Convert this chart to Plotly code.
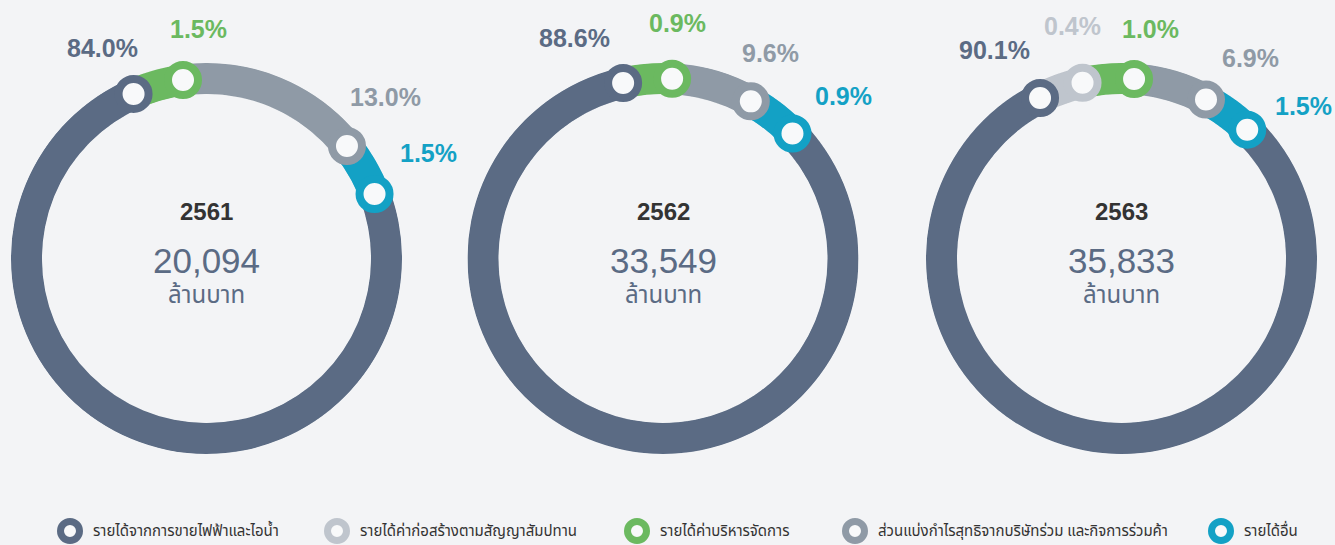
import math
import plotly.graph_objects as go

# ---------------- data ----------------
years = ["2561", "2562", "2563"]
totals = ["20,094", "33,549", "35,833"]
unit = "ล้านบาท"
categories = [
    "รายได้จากการขายไฟฟ้าและไอน้ำ",
    "รายได้ค่าก่อสร้างตามสัญญาสัมปทาน",
    "รายได้ค่าบริหารจัดการ",
    "ส่วนแบ่งกำไรสุทธิจากบริษัทร่วม และกิจการร่วมค้า",
    "รายได้อื่น",
]
share_2561 = [84.0, 0.0, 1.5, 13.0, 1.5]
share_2562 = [88.6, 0.0, 0.9, 9.6, 0.9]
share_2563 = [90.1, 0.4, 1.0, 6.9, 1.5]
# arc length of each segment as drawn in the (stylised) rings, degrees
arc_2561 = [267.1, 0.0, 16.4, 58.8, 17.7]
arc_2562 = [301.2, 0.0, 15.7, 26.3, 16.8]
arc_2563 = [288.8, 14.4, 16.5, 24.0, 16.3]

shares = [share_2561, share_2562, share_2563]
arcs = [arc_2561, arc_2562, arc_2563]

# ---------------- style / layout ----------------
W, H = 1335, 545
BG = "#f3f4f6"
colors = ["#5b6b84", "#bfc5cd", "#6bb960", "#8f9aa6", "#13a1c5"]
centers_x = [206.5, 663.0, 1121.5]
center_y = 258.5
R_OUT = 195.5
THICK = 31.0
HOLE = (R_OUT - THICK) / R_OUT
dark_end = [-23.9, -12.8, -26.9]          # angle where the main segment ends
# label placement (angle, radius px) per ring, per category (None = no label)
label_pos = [
    [(-26.4, 235), None, (-2.1, 230), (47.9, 241), (64.6, 246)],
    [(-21.9, 238), None, (3.6, 236), (27.7, 232), (47.9, 243)],
    [(-31.4, 244), (-12.0, 238), (7.3, 231), (32.7, 238), (50.0, 237)],
]
NUM_FONT = "Liberation Sans, Arial, Helvetica, sans-serif"
THAI_FONT = "Noto Sans Thai, Loma, Garuda, Tahoma, sans-serif"

fig = go.Figure()
layout_polars = {}
annotations = []

for i in range(3):
    pid = "polar" if i == 0 else f"polar{i+1}"
    arc = arcs[i]
    sh = shares[i]
    thetas, widths, cols = [], [], []
    ends, end_cols = [], []
    start_main = dark_end[i] - arc[0]
    thetas.append(start_main + arc[0] / 2)
    widths.append(arc[0])
    cols.append(colors[0])
    ends.append(dark_end[i])
    end_cols.append(colors[0])
    pos = dark_end[i]
    for k in range(1, 5):
        if arc[k] <= 0:
            continue
        thetas.append(pos + arc[k] / 2)
        widths.append(arc[k])
        cols.append(colors[k])
        pos += arc[k]
        ends.append(pos)
        end_cols.append(colors[k])

    fig.add_trace(go.Barpolar(
        subplot=pid, r=[1.0] * len(thetas), base=[0.0] * len(thetas),
        theta=thetas, width=widths,
        marker=dict(color=cols, line=dict(width=0.6, color=cols)),
        hoverinfo="skip", showlegend=False,
    ))
    fig.add_trace(go.Scatterpolar(
        subplot=pid, r=[0.5] * len(ends), theta=ends, mode="markers",
        marker=dict(symbol="circle", size=30, color="#f8f9fa",
                    line=dict(color=end_cols, width=8)),
        hoverinfo="skip", showlegend=False, cliponaxis=False,
    ))

    cx = centers_x[i]
    for k in range(5):
        if label_pos[i][k] is None:
            continue
        a, rr = label_pos[i][k]
        lx = cx + rr * math.sin(math.radians(a))
        ly = center_y - rr * math.cos(math.radians(a))
        annotations.append(dict(
            x=lx / W, y=1 - ly / H, xref="paper", yref="paper",
            xanchor="center", yanchor="middle", text=f"{sh[k]:.1f}%", showarrow=False,
            font=dict(family=NUM_FONT, size=25, color=colors[k], weight="bold"),
        ))

    layout_polars[pid] = dict(
        domain=dict(x=[(cx - R_OUT) / W, (cx + R_OUT) / W],
                    y=[1 - (center_y + R_OUT) / H, 1 - (center_y - R_OUT) / H]),
        bgcolor="rgba(0,0,0,0)",
        hole=HOLE,
        radialaxis=dict(visible=False, range=[0, 1], autorange=False),
        angularaxis=dict(visible=False, rotation=90, direction="clockwise"),
        bargap=0,
    )
    annotations += [
        dict(x=cx / W, y=1 - 211.5 / H, xref="paper", yref="paper", text=years[i],
             xanchor="center", yanchor="middle", showarrow=False,
             font=dict(family=NUM_FONT, size=24, color="#333333", weight="bold")),
        dict(x=cx / W, y=1 - 260 / H, xref="paper", yref="paper", text=totals[i],
             xanchor="center", yanchor="middle", showarrow=False,
             font=dict(family=NUM_FONT, size=35, color="#5b6b84")),
        dict(x=cx / W, y=1 - 296 / H, xref="paper", yref="paper", text=unit,
             xanchor="center", yanchor="middle", showarrow=False,
             font=dict(family=THAI_FONT, size=24, color="#5b6b84")),
    ]

# ---------------- legend (manual) ----------------
legend_x = [70, 337, 637, 855, 1221]
legend_y = 531
fig.add_trace(go.Scatter(
    x=legend_x, y=[H - legend_y] * 5, mode="markers", xaxis="x", yaxis="y",
    marker=dict(symbol="circle", size=19, color="#f8f9fa", line=dict(color=colors, width=7)),
    hoverinfo="skip", showlegend=False, cliponaxis=False,
))
for k in range(5):
    annotations.append(dict(
        x=legend_x[k] + 21, y=H - legend_y, xref="x", yref="y", text=categories[k],
        xanchor="left", yanchor="middle", showarrow=False,
        font=dict(family=THAI_FONT, size=15, color="#333333"),
    ))

fig.update_layout(
    width=W, height=H,
    margin=dict(l=0, r=0, t=0, b=0, autoexpand=False),
    paper_bgcolor=BG, plot_bgcolor="rgba(0,0,0,0)",
    xaxis=dict(range=[0, W], visible=False, domain=[0, 1], fixedrange=True),
    yaxis=dict(range=[0, H], visible=False, domain=[0, 1], fixedrange=True),
    annotations=annotations,
    showlegend=False,
    **layout_polars,
)

fig.write_html(
    "out.html",
    config={"displayModeBar": False, "staticPlot": True},
    post_script="document.body.style.margin='0';document.body.style.background='#f3f4f6';",
)
